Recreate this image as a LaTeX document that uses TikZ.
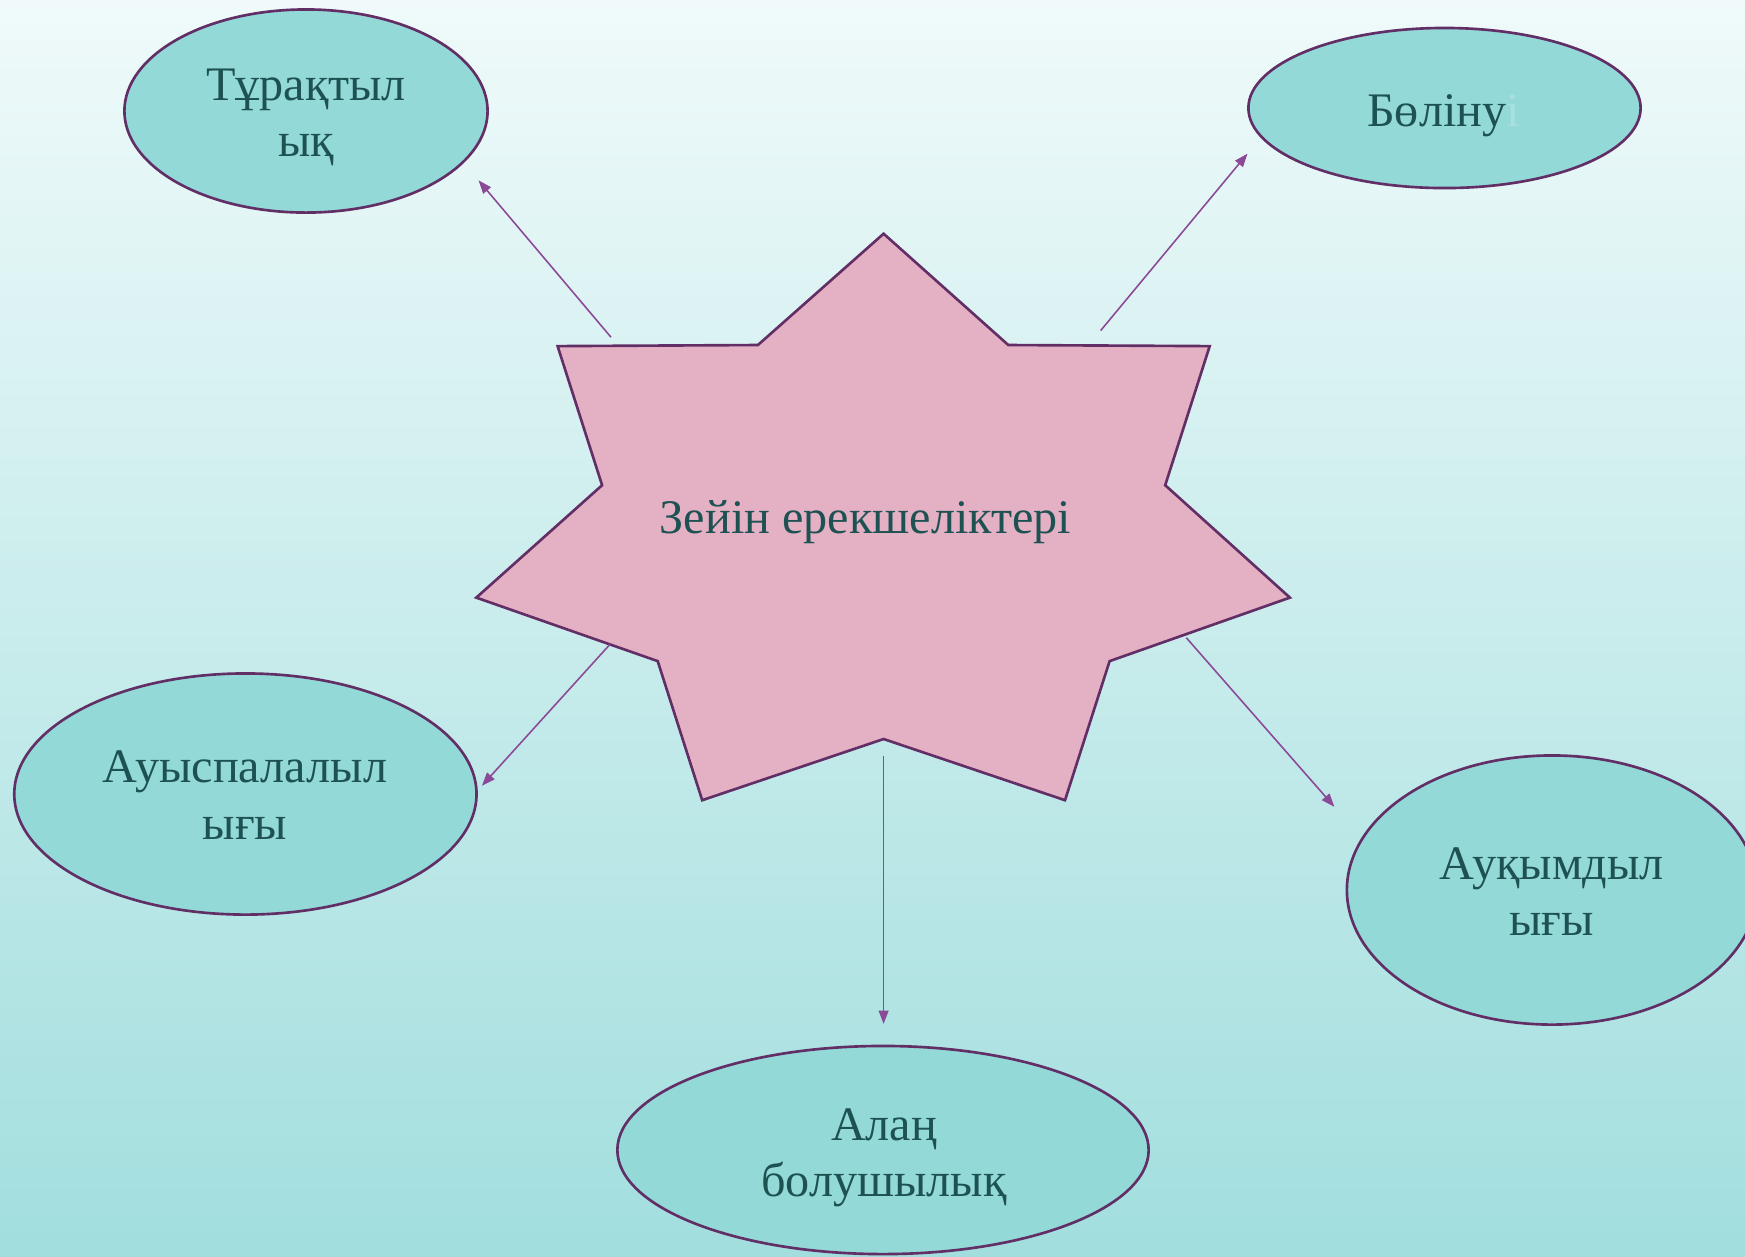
\documentclass[tikz,border=0pt]{standalone}
\usepackage{fontspec}
\setmainfont{Liberation Serif}
\usetikzlibrary{shapes.geometric,arrows.meta}
\definecolor{bgtop}{HTML}{F0FAFA}
\definecolor{bgbot}{HTML}{A2DEDE}
\definecolor{ellfill}{HTML}{93D9D8}
\definecolor{edgecol}{HTML}{622E66}
\definecolor{starfill}{HTML}{E3B0C4}
\definecolor{txt}{HTML}{1E5252}
\definecolor{arrcol}{HTML}{8A4A98}
\newcommand\twoline[2]{\begin{tabular}[t]{@{}c@{}}#1\\#2\end{tabular}}
\begin{document}
\begin{tikzpicture}[x=0.01cm,y=-0.01cm,
  bubble/.style={ellipse, draw=edgecol, line width=0.75pt, fill=ellfill, inner sep=0pt},
  lbl/.style={anchor=base, inner sep=0pt, text=txt, font=\fontsize{13.7}{16.16}\selectfont},
  link/.style={draw=arrcol, line width=0.45pt, -{Triangle[length=3.8pt,width=2.8pt]}}]
\useasboundingbox (0,0) rectangle (1745,1256);
\clip (0,0) rectangle (1745,1256);
\shade[top color=bgtop, bottom color=bgbot] (0,0) rectangle (1745,1256);

% star
\draw[draw=edgecol, line width=0.75pt, fill=starfill, line join=miter]
  (883.6,233.7) -- (1008.3,345) -- (1209.7,346.1) -- (1165.2,485.2) -- (1289.9,597.6)
  -- (1109.6,661.1) -- (1065.0,800.2) -- (883.6,739.0) -- (702.2,800.2) -- (657.7,661.1)
  -- (476.3,597.6) -- (602.1,485.2) -- (557.6,346.1) -- (757.9,345) -- cycle;
\node[lbl] (zst) at (865.4,533) {Зейін ерекшеліктері};

% ellipses
\node[bubble, minimum width=3.63cm, minimum height=2.03cm] (stab) at (306,111) {};
\node[bubble, minimum width=3.92cm, minimum height=1.60cm] (bol) at (1444.5,108) {};
\node[bubble, minimum width=4.62cm, minimum height=2.41cm] (aus) at (245.4,794) {};
\node[bubble, minimum width=4.10cm, minimum height=2.69cm] (auk) at (1552,890) {};
\node[bubble, minimum width=5.31cm, minimum height=2.08cm] (alan) at (883,1150) {};

% texts
\node[lbl] (stabt) at (306,100) {\twoline{Тұрақтыл}{ық}};
\node[lbl] (bolt) at (1443.5,126) {Бөліну{\color{ellfill!82!white}і}};
\node[lbl] (aust) at (245,782.7) {\twoline{Ауыспалалыл}{ығы}};
\node[lbl] (aukt) at (1551.7,879) {\twoline{Ауқымдыл}{ығы}};
\node[lbl] (alant) at (884,1140) {\twoline{Алаң}{болушылық}};

% connectors
\coordinate (s1) at (611,337.2);   \coordinate (e1) at (478.5,180.3);
\coordinate (s2) at (1100.7,330.5); \coordinate (e2) at (1247.5,153.6);
\coordinate (s3) at (609.9,644.4); \coordinate (e3) at (481.9,785.7);
\coordinate (s4) at (883.6,755.7); \coordinate (e4) at (883.6,1023.9);
\coordinate (s5) at (1186.3,637.7); \coordinate (e5) at (1334.4,806.8);
\draw[link] (s1) -- (e1);
\draw[link] (s2) -- (e2);
\draw[link] (s3) -- (e3);
\draw[link] (s4) -- (e4);
\draw[link] (s5) -- (e5);
\end{tikzpicture}
\end{document}
